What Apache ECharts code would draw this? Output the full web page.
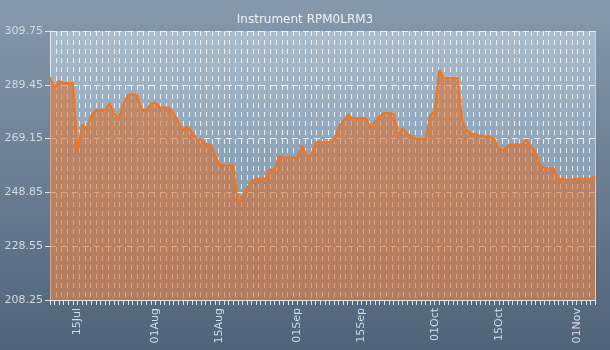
<!DOCTYPE html>
<html><head><meta charset="utf-8">
<script src="https://cdn.jsdelivr.net/npm/echarts@6/dist/echarts.min.js"></script>
<style>html,body{margin:0;padding:0;}#c{width:610px;height:350px;}</style>
</head><body><div id="c"></div>
<script>
const titleText = "Instrument RPM0LRM3";
const dates = [
"09Jul","10Jul","11Jul","12Jul","13Jul","14Jul","15Jul","16Jul","17Jul","18Jul","19Jul","20Jul","21Jul","22Jul","23Jul","24Jul","25Jul","26Jul","27Jul","28Jul","29Jul","30Jul","31Jul",
"01Aug","02Aug","03Aug","04Aug","05Aug","06Aug","07Aug","08Aug","09Aug","10Aug","11Aug","12Aug","13Aug","14Aug","15Aug","16Aug","17Aug","18Aug","19Aug","20Aug","21Aug","22Aug","23Aug","24Aug","25Aug","26Aug","27Aug","28Aug","29Aug","30Aug","31Aug",
"01Sep","02Sep","03Sep","04Sep","05Sep","06Sep","07Sep","08Sep","09Sep","10Sep","11Sep","12Sep","13Sep","14Sep","15Sep","16Sep","17Sep","18Sep","19Sep","20Sep","21Sep","22Sep","23Sep","24Sep","25Sep","26Sep","27Sep","28Sep","29Sep","30Sep",
"01Oct","02Oct","03Oct","04Oct","05Oct","06Oct","07Oct","08Oct","09Oct","10Oct","11Oct","12Oct","13Oct","14Oct","15Oct","16Oct","17Oct","18Oct","19Oct","20Oct","21Oct","22Oct","23Oct","24Oct","25Oct","26Oct","27Oct","28Oct","29Oct","30Oct","31Oct",
"01Nov","02Nov","03Nov","04Nov","05Nov"
];
const values = [
292.2,288.2,290.9,290.1,290.1,290.1,264.5,274.5,272.8,277.9,279.9,279.9,279.9,282.5,278.5,276.9,282.2,285.6,285.9,285.6,280.0,279.9,282.3,
282.8,280.9,280.9,280.9,278.5,275.4,272.2,273.7,271.6,269.0,268.6,267.2,267.0,263.2,259.4,259.0,259.0,259.0,245.0,247.8,250.6,253.1,254.0,254.0,254.0,257.6,257.2,262.8,261.9,261.9,261.9,
261.9,266.6,262.8,262.8,267.8,267.8,267.8,267.8,268.5,273.5,275.8,278.1,276.9,276.9,276.9,276.9,273.1,275.7,277.6,278.8,278.8,278.5,270.8,273.0,271.1,269.8,269.0,269.0,269.0,277.8,
279.6,295.0,292.0,292.0,292.0,292.0,276.0,272.2,271.0,270.9,270.2,269.9,269.9,269.1,265.3,264.9,266.8,266.9,266.9,266.9,268.8,266.1,264.1,259.4,258.0,258.0,258.0,253.6,254.1,253.5,253.7,
254.0,254.0,254.0,254.0,254.9
];
const yMin = 208.25, yMax = 309.75, yStep = 20.3;
const shownLabels = ["15Jul","01Aug","15Aug","01Sep","15Sep","01Oct","15Oct","01Nov"];

const chart = echarts.init(document.getElementById('c'), null, {renderer:'canvas'});
const labelColor = '#d3dbe3';
const font = 'DejaVu Sans';
chart.setOption({
  animation: false,
  backgroundColor: new echarts.graphic.LinearGradient(0,0,0,1,[{offset:0,color:'#8799ac'},{offset:1,color:'#4f6379'}]),
  title: {text: titleText, left: 'center', top: 9, textStyle:{color:'#eef2f6', fontSize:12, fontWeight:'normal', fontFamily:font}},
  grid: {left:50, right:15, top:31, bottom:50, show:true, borderWidth:0,
    backgroundColor: new echarts.graphic.LinearGradient(0,0,0,1,[{offset:0,color:'#aabdce'},{offset:0.45,color:'#8ea4b9'},{offset:1,color:'#7a91a8'}])},
  xAxis: [{
    type:'category', data: dates, boundaryGap:false,
    axisLine:{show:true, lineStyle:{color:'#dfe6ec', width:1}},
    axisTick:{show:true, interval:0, length:5, lineStyle:{color:'#dfe6ec'}},
    axisLabel:{interval:(i,v)=>shownLabels.indexOf(v)>=0, rotate:90, color:labelColor, fontSize:11, fontFamily:font, margin:8},
    splitLine:{show:false}
  },{
    type:'value', min:0, max:94, interval:1, position:'top',
    axisLine:{show:false}, axisTick:{show:false}, axisLabel:{show:false},
    splitLine:{show:true, lineStyle:{color:'rgba(255,255,255,0.8)', type:[5,4], width:1}}
  }],
  yAxis: [{
    type:'value', min:yMin, max:yMax, interval:yStep,
    axisLine:{show:true, lineStyle:{color:'#dfe6ec'}},
    axisTick:{show:true, length:5, lineStyle:{color:'#dfe6ec'}},
    axisLabel:{color:labelColor, fontSize:11, fontFamily:font, margin:7, formatter:v=>v.toFixed(2)},
    splitLine:{show:true, lineStyle:{color:'rgba(255,255,255,0.8)', type:[6,5], width:1}}
  },{
    type:'value', min:yMin, max:yMax, interval:yStep, position:'right',
    axisLine:{show:true, lineStyle:{color:'#c5d0da'}}, axisTick:{show:false}, axisLabel:{show:false}, splitLine:{show:false}
  }],
  series: [{
    type:'line', data: values, xAxisIndex:0, yAxisIndex:0, symbol:'none',
    lineStyle:{color:'#f4731c', width:2},
    areaStyle:{color:'rgba(222,108,38,0.8)'}
  }]
});
</script></body></html>
